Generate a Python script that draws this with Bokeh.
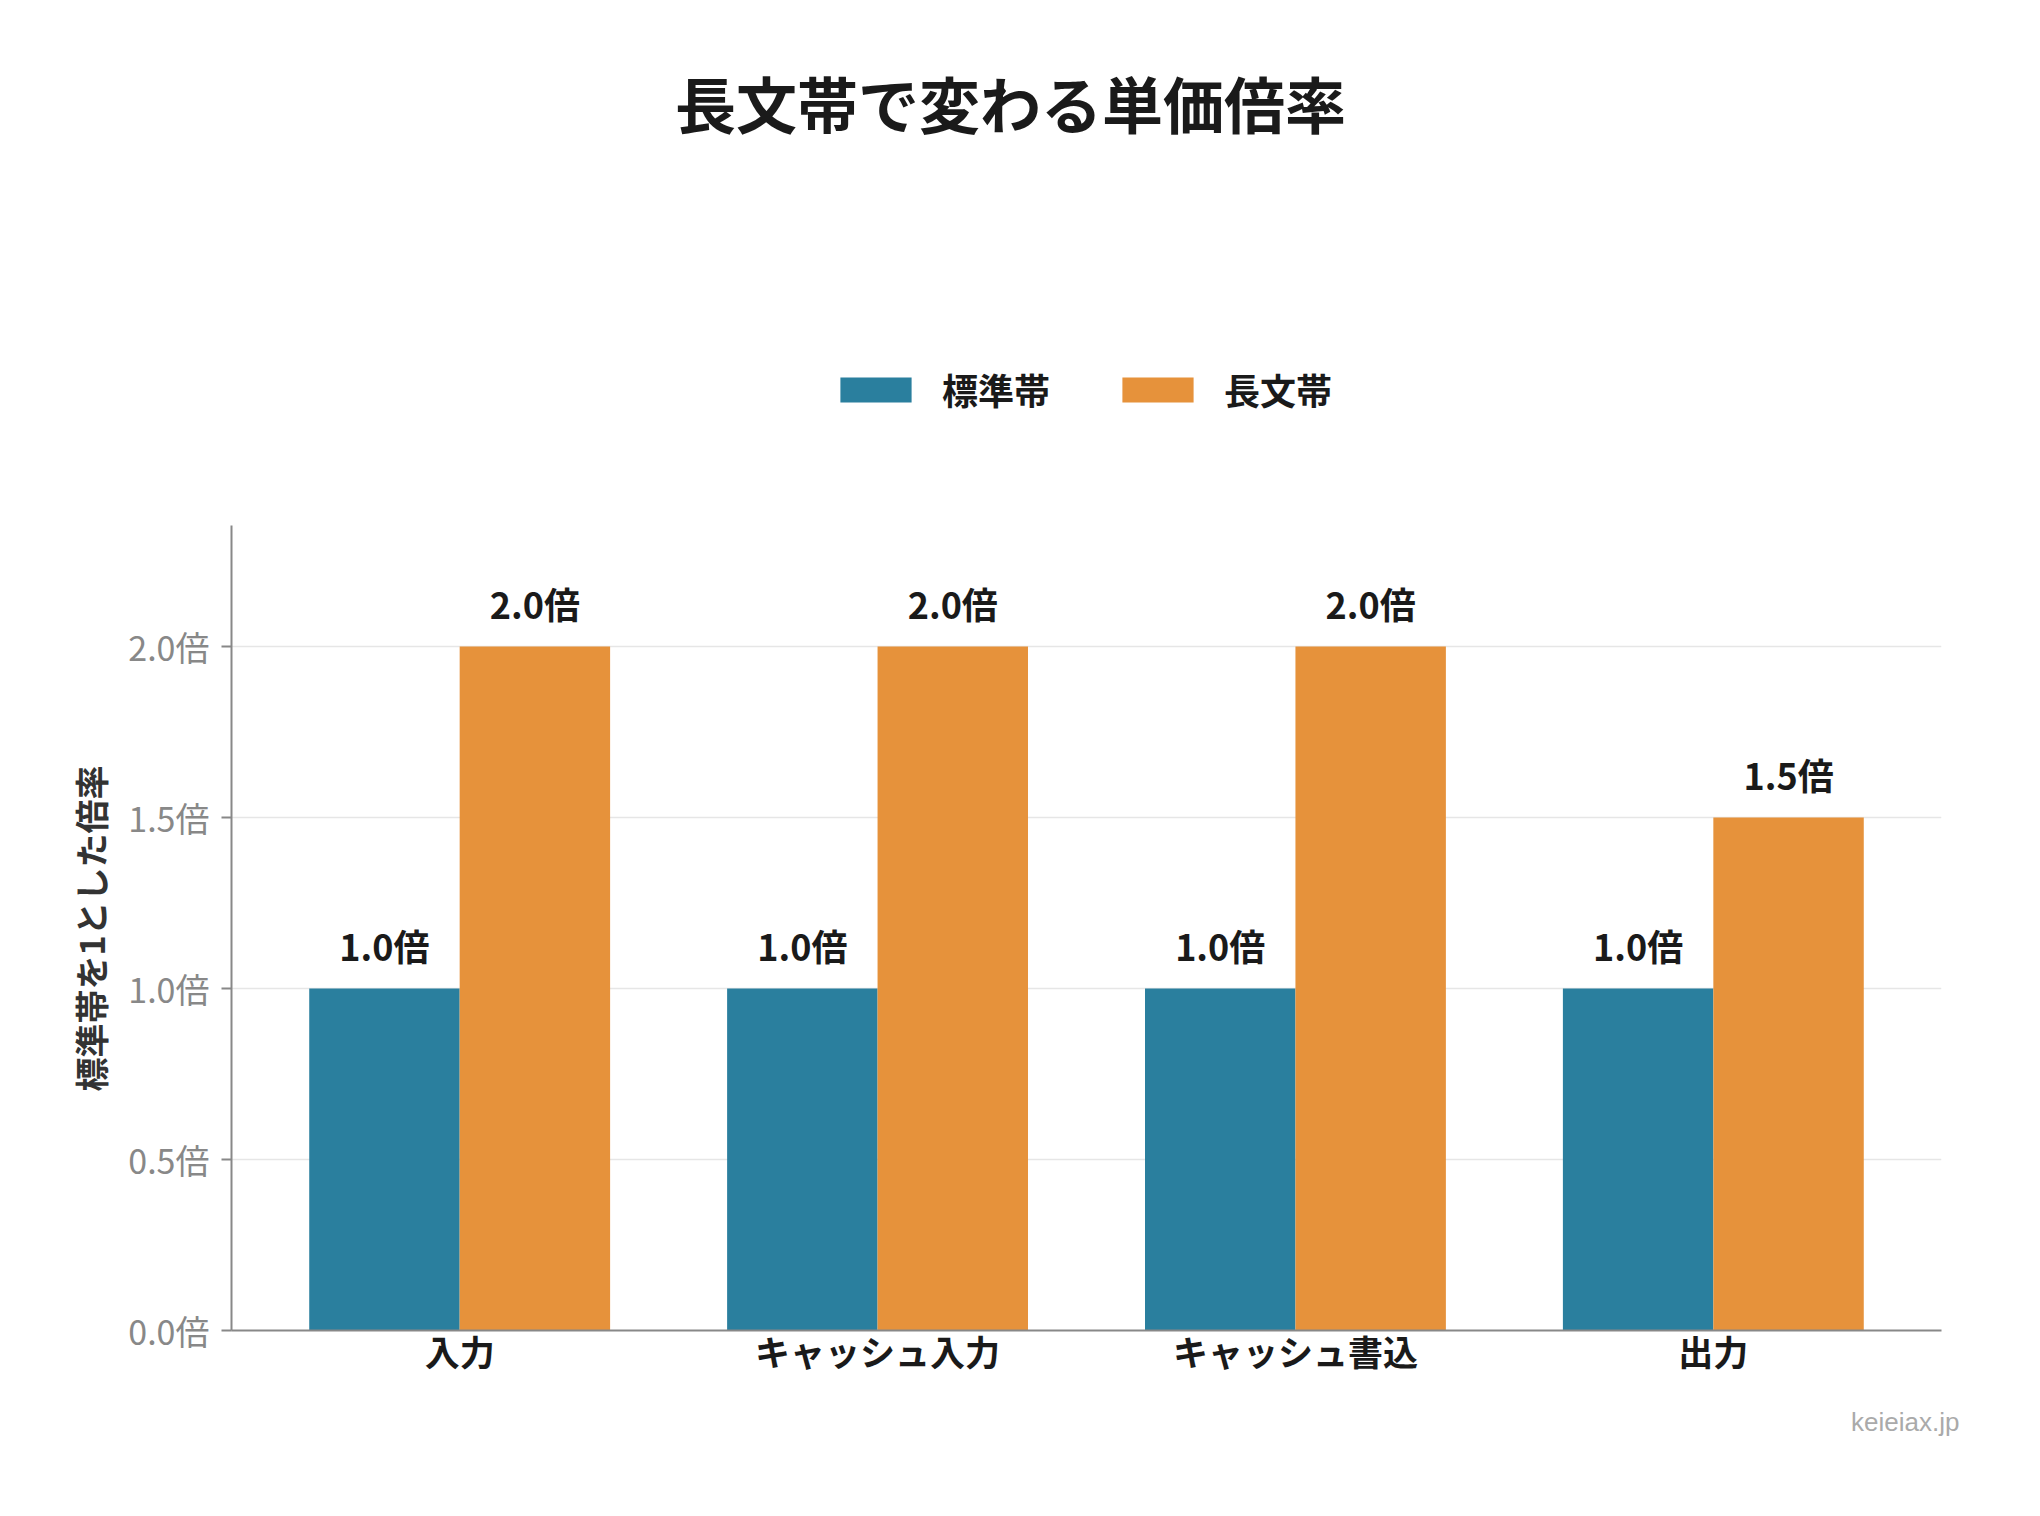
from bokeh.plotting import figure
from bokeh.models import (Range1d, FixedTicker, Title, Label, Legend, LegendItem,
                          ColumnDataSource)
from bokeh.core.properties import value
from bokeh.embed import file_html
from bokeh.resources import INLINE

# ---- data ----
categories = ["入力", "キャッシュ入力", "キャッシュ書込", "出力"]
standard = [1.0, 1.0, 1.0, 1.0]
long_ctx = [2.0, 2.0, 2.0, 1.5]
series_names = ["標準帯", "長文帯"]
y_ticks = [0.0, 0.5, 1.0, 1.5, 2.0]
y_tick_labels = ["0.0倍", "0.5倍", "1.0倍", "1.5倍", "2.0倍"]
title_text = "長文帯で変わる単価倍率"
y_label_text = "標準帯を1とした倍率"
credit_text = "keieiax.jp"

BLUE = "#2a7f9e"
ORANGE = "#e6923b"
JP = "Noto Sans CJK JP"
BW = 0.36
Y_TOP = 2.354            # top of the visible value axis
FRAME_H = 1330           # frame spans the page top down to the x axis
AXIS_H = 805             # height of the value-axis part of the frame

idx = list(range(len(categories)))
src_a = ColumnDataSource(dict(x=[i - BW / 2 for i in idx], top=standard,
                              lab=[f"{v:.1f}倍" for v in standard]))
src_b = ColumnDataSource(dict(x=[i + BW / 2 for i in idx], top=long_ctx,
                              lab=[f"{v:.1f}倍" for v in long_ctx]))

p = figure(width=2024, height=1500, output_backend="svg", toolbar_location=None,
           x_range=Range1d(-0.546, 3.546),
           y_range=Range1d(0, Y_TOP * FRAME_H / AXIS_H),
           min_border_left=231, min_border_right=83, min_border_top=0,
           min_border_bottom=170, title=None)
p.outline_line_color = None
p.background_fill_color = "white"
p.border_fill_color = "white"

r_a = p.vbar(x="x", top="top", width=BW, source=src_a, fill_color=BLUE, line_color=None)
r_b = p.vbar(x="x", top="top", width=BW, source=src_b, fill_color=ORANGE, line_color=None)

for s in (src_a, src_b):
    p.text(x="x", y="top", text="lab", source=s, text_align="center",
           text_baseline="bottom", y_offset=-18, text_font=value(JP),
           text_font_style="bold", text_font_size="36px", text_color="#1a1a1a")

# grid
p.xgrid.visible = False
p.ygrid.ticker = FixedTicker(ticks=y_ticks)
p.ygrid.grid_line_color = "#e6e6e6"
p.ygrid.grid_line_width = 1.5

# y axis
ya = p.yaxis[0]
ya.ticker = FixedTicker(ticks=y_ticks)
ya.bounds = (0, Y_TOP)
ya.major_label_overrides = {t: l for t, l in zip(y_ticks, y_tick_labels)}
ya.axis_line_color = "#888888"
ya.axis_line_width = 2
ya.major_tick_line_color = "#888888"
ya.major_tick_line_width = 2
ya.major_tick_out = 10
ya.major_tick_in = 0
ya.minor_tick_line_color = None
ya.major_label_text_font = JP
ya.major_label_text_font_size = "34px"
ya.major_label_text_color = "#888888"
ya.major_label_standoff = 12

# y axis title, placed along the value part of the axis
p.add_layout(Title(text=y_label_text, align="left", offset=239, standoff=22,
                   text_font=JP, text_font_style="bold", text_font_size="34px",
                   text_color="#333333"), "left")

# x axis
xa = p.xaxis[0]
xa.ticker = FixedTicker(ticks=idx)
xa.major_label_overrides = {i: c for i, c in zip(idx, categories)}
xa.axis_line_color = "#888888"
xa.axis_line_width = 2
xa.major_tick_line_color = None
xa.major_tick_out = 0
xa.major_tick_in = 0
xa.minor_tick_line_color = None
xa.major_label_text_font = JP
xa.major_label_text_font_style = "bold"
xa.major_label_text_font_size = "35px"
xa.major_label_text_color = "#1a1a1a"
xa.major_label_standoff = -6

# legend (inside the tall frame, above the value area)
legend = Legend(items=[LegendItem(label=series_names[0], renderers=[r_a]),
                       LegendItem(label=series_names[1], renderers=[r_b])],
                orientation="horizontal", location=(600, 915),
                glyph_width=89, glyph_height=31, label_standoff=22, spacing=63,
                padding=0, margin=0, border_line_color=None,
                background_fill_alpha=0, label_text_font=JP,
                label_text_font_style="bold", label_text_font_size="36px",
                label_text_color="#1a1a1a")
p.add_layout(legend, "center")

# title
p.add_layout(Label(x=779, y=1228, x_units="screen", y_units="screen",
                   text=title_text, text_align="center", text_baseline="middle",
                   text_font=JP, text_font_style="bold", text_font_size="61px",
                   text_color="#1a1a1a"))
# credit
p.add_layout(Title(text=credit_text, align="right", offset=-18, standoff=52,
                   text_font="Liberation Sans", text_font_style="normal",
                   text_font_size="26px", text_color="#aaaaaa"), "below")

open("out.html", "w").write(file_html(p, INLINE))
